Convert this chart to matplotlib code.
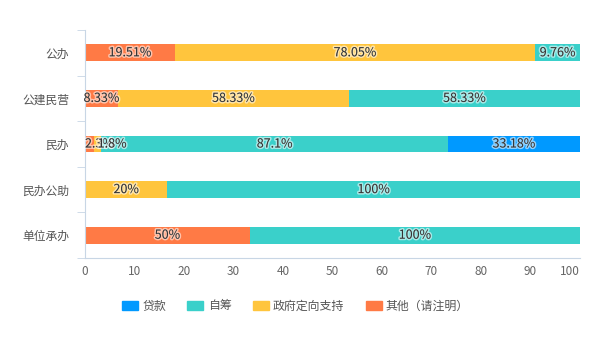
import numpy as np
import matplotlib.pyplot as plt
import matplotlib.patheffects as pe

plt.rcParams['font.family'] = ['Noto Sans CJK SC', 'DejaVu Sans']

categories = ['公办', '公建民营', '民办', '民办公助', '单位承办']
series_names = ['贷款', '自筹', '政府定向支持', '其他（请注明）']
colors = ['#0099ff', '#3ad0ca', '#ffc53d', '#ff7a45']

# raw values per series, one entry per category (None = no bar)
loan = [None, None, 33.18, None, None]
self_raised = [9.76, 58.33, 87.1, 100, 100]
gov_support = [78.05, 58.33, 1.8, 20, None]
other = [19.51, 8.33, 2.3, None, 50]

# stacking order from the axis outward
stack = [(other, colors[3]), (gov_support, colors[2]),
         (self_raised, colors[1]), (loan, colors[0])]

totals = np.zeros(len(categories))
for vals, _ in stack:
    totals += np.array([v or 0 for v in vals])

fig = plt.figure(figsize=(6, 3.4), dpi=100)
ax = fig.add_axes([85 / 600, 82 / 340, 495 / 600, 228 / 340])

y = np.arange(len(categories))
left = np.zeros(len(categories))
glow = [pe.withStroke(linewidth=2.2, foreground=(1, 1, 1, 0.55))]
for vals, color in stack:
    raw = np.array([v or 0 for v in vals])
    width = raw / totals * 100
    ax.barh(y, width, left=left, height=0.37, color=color, linewidth=0)
    for i, v in enumerate(vals):
        if v is None:
            continue
        # narrow segments: label starts at the segment middle (or at 0 for the first one)
        if width[i] < 5:
            tx, ha = left[i] + (width[i] / 2 if left[i] > 0 else 0), 'left'
        else:
            tx, ha = left[i] + width[i] / 2, 'center'
        ax.text(tx, y[i], f'{v:g}%', ha=ha, va='center',
                fontsize=9, color='#333333', path_effects=glow)
    left += width

ax.set_xlim(0, 100)
ax.set_ylim(len(categories) - 0.5, -0.5)
ax.set_xticks(np.arange(0, 101, 10))
ax.get_xticklabels()[-1].set_horizontalalignment('right')
ax.set_yticks(y)
ax.set_yticklabels(categories)
ax.set_yticks(np.arange(-0.5, len(categories)), minor=True)

axis_color = '#c8d6e5'
for side in ['top', 'right']:
    ax.spines[side].set_visible(False)
ax.spines['left'].set_color(axis_color)
ax.spines['bottom'].set_color(axis_color)
ax.tick_params(axis='x', length=0, pad=5, labelsize=8.5, labelcolor='#666666')
ax.tick_params(axis='y', which='major', length=0, pad=11.5, labelsize=8.5, labelcolor='#555555')
ax.tick_params(axis='y', which='minor', length=6, color=axis_color)

handles = [plt.Rectangle((0, 0), 1, 1, color=c) for c in colors]
fig.legend(handles, series_names, loc='center', bbox_to_anchor=(0.4925, 0.1), ncol=4,
           frameon=False, fontsize=8.6, handlelength=1.33, handleheight=0.85,
           handletextpad=0.35, columnspacing=1.8, labelcolor='#555555')

fig.savefig('out.png')
